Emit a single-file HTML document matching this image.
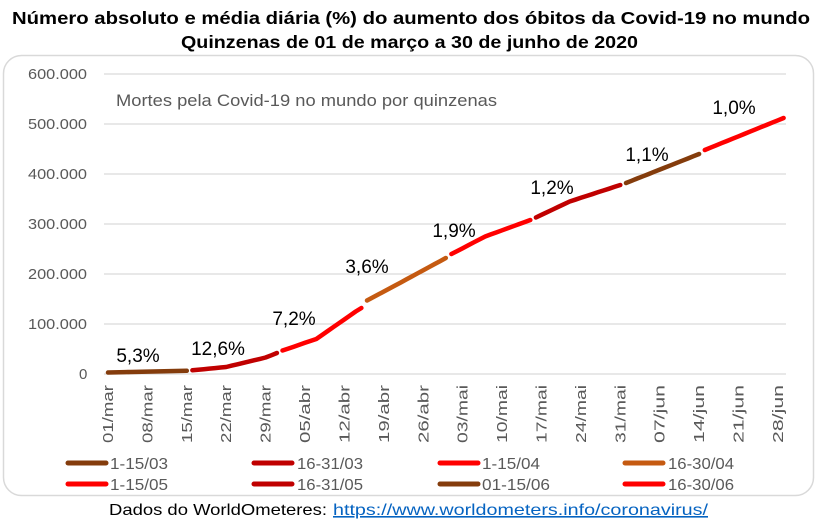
<!DOCTYPE html>
<html><head><meta charset="utf-8"><style>
body{margin:0;background:#fff;width:820px;height:526px;overflow:hidden;font-family:"Liberation Sans",sans-serif}
</style></head><body>
<svg width="820" height="526" xmlns="http://www.w3.org/2000/svg" font-family="Liberation Sans, sans-serif">
<text x="12" y="24" font-size="17.5" font-weight="bold" textLength="798" lengthAdjust="spacingAndGlyphs">Número absoluto e média diária (%) do aumento dos óbitos da Covid-19 no mundo</text>
<text x="181" y="48" font-size="17.5" font-weight="bold" textLength="457" lengthAdjust="spacingAndGlyphs">Quinzenas de 01 de março a 30 de junho de 2020</text>
<rect x="3.5" y="55.5" width="810" height="440" rx="18" fill="#fff" stroke="#d9d9d9" stroke-width="1.5"/>
<g stroke="#d9d9d9" stroke-width="1.3">
<line x1="104" x2="786" y1="74" y2="74"/><line x1="104" x2="786" y1="124" y2="124"/><line x1="104" x2="786" y1="174" y2="174"/><line x1="104" x2="786" y1="224" y2="224"/><line x1="104" x2="786" y1="274" y2="274"/><line x1="104" x2="786" y1="324" y2="324"/><line x1="104" x2="786" y1="374" y2="374"/>
</g>
<g font-size="15" fill="#595959">
<text x="28" y="79" textLength="59" lengthAdjust="spacingAndGlyphs">600.000</text><text x="28" y="129" textLength="59" lengthAdjust="spacingAndGlyphs">500.000</text><text x="28" y="179" textLength="59" lengthAdjust="spacingAndGlyphs">400.000</text><text x="28" y="229" textLength="59" lengthAdjust="spacingAndGlyphs">300.000</text><text x="28" y="279" textLength="59" lengthAdjust="spacingAndGlyphs">200.000</text><text x="28" y="329" textLength="59" lengthAdjust="spacingAndGlyphs">100.000</text><text x="79" y="379">0</text>
</g>
<text x="116" y="106" font-size="16.5" fill="#595959" textLength="381" lengthAdjust="spacingAndGlyphs">Mortes pela Covid-19 no mundo por quinzenas</text>
<g id="ticks" font-size="15" fill="#595959" text-anchor="end"></g>
<g id="lines" fill="none" stroke-width="4.5" stroke-linecap="round" stroke-linejoin="round"></g>
<g font-size="19" fill="#000" text-anchor="middle">
<text x="138" y="362">5,3%</text><text x="218" y="355">12,6%</text><text x="294" y="325">7,2%</text><text x="367" y="273">3,6%</text><text x="454" y="237">1,9%</text><text x="552" y="194">1,2%</text><text x="647" y="161">1,1%</text><text x="734" y="114">1,0%</text>
</g>
<g font-size="16" fill="#595959" lengthAdjust="spacingAndGlyphs">
<line x1="68" x2="106" y1="463" y2="463" stroke="#843C0C" stroke-width="5" stroke-linecap="round"/><text x="110" y="469" textLength="58" lengthAdjust="spacingAndGlyphs">1-15/03</text>
<line x1="254" x2="292" y1="463" y2="463" stroke="#C00000" stroke-width="5" stroke-linecap="round"/><text x="297" y="469" textLength="66" lengthAdjust="spacingAndGlyphs">16-31/03</text>
<line x1="440" x2="478" y1="463" y2="463" stroke="#FF0000" stroke-width="5" stroke-linecap="round"/><text x="482" y="469" textLength="58" lengthAdjust="spacingAndGlyphs">1-15/04</text>
<line x1="625" x2="663" y1="463" y2="463" stroke="#C55A11" stroke-width="5" stroke-linecap="round"/><text x="668" y="469" textLength="66" lengthAdjust="spacingAndGlyphs">16-30/04</text>
<line x1="68" x2="106" y1="484" y2="484" stroke="#FF0000" stroke-width="5" stroke-linecap="round"/><text x="110" y="490" textLength="58" lengthAdjust="spacingAndGlyphs">1-15/05</text>
<line x1="254" x2="292" y1="484" y2="484" stroke="#C00000" stroke-width="5" stroke-linecap="round"/><text x="297" y="490" textLength="66" lengthAdjust="spacingAndGlyphs">16-31/05</text>
<line x1="440" x2="478" y1="484" y2="484" stroke="#843C0C" stroke-width="5" stroke-linecap="round"/><text x="482" y="490" textLength="68" lengthAdjust="spacingAndGlyphs">01-15/06</text>
<line x1="625" x2="663" y1="484" y2="484" stroke="#FF0000" stroke-width="5" stroke-linecap="round"/><text x="668" y="490" textLength="66" lengthAdjust="spacingAndGlyphs">16-30/06</text>
</g>
<text x="109" y="515" font-size="16" fill="#000" textLength="218" lengthAdjust="spacingAndGlyphs">Dados do WorldOmeteres:</text>
<text x="333" y="515" font-size="16" fill="#0563C1" text-decoration="underline" textLength="375" lengthAdjust="spacingAndGlyphs">https://www.worldometers.info/coronavirus/</text>
</svg>
<script>
var ns="http://www.w3.org/2000/svg";
var X=function(d){return 108+5.63*d},Y=function(v){return 374-v/2000};
var labs=["01/mar","08/mar","15/mar","22/mar","29/mar","05/abr","12/abr","19/abr","26/abr","03/mai","10/mai","17/mai","24/mai","31/mai","07/jun","14/jun","21/jun","28/jun"];
var tg=document.getElementById("ticks");
labs.forEach(function(l,i){var x=X(i*7)+5;var t=document.createElementNS(ns,"text");t.setAttribute("transform","translate("+x+",385) rotate(-90)");t.setAttribute("textLength","58");t.setAttribute("lengthAdjust","spacingAndGlyphs");t.textContent=l;tg.appendChild(t);});
var key=[[0,3000],[14,6500],[15,7500],[21,14000],[28,33000],[30,42000],[31,47000],[37,70000],[44,125000],[45,132000],[46,147000],[52,183000],[60,232000],[61,240000],[67,275000],[75,308000],[76,313000],[82,345000],[91,378000],[92,382000],[105,440000],[106,448000],[120,512000]];
function val(d){for(var i=0;i<key.length-1;i++){if(d>=key[i][0]&&d<=key[i+1][0]){var a=key[i],b=key[i+1];return a[1]+(b[1]-a[1])*(d-a[0])/(b[0]-a[0]);}}return 512000;}
var segs=[[0,14,"#843C0C"],[15,30,"#C00000"],[31,45,"#FF0000"],[46,60,"#C55A11"],[61,75,"#FF0000"],[76,91,"#C00000"],[92,105,"#843C0C"],[106,120,"#FF0000"]];
var lg=document.getElementById("lines");
segs.forEach(function(s){var p=[];for(var d=s[0];d<=s[1];d++)p.push(X(d).toFixed(1)+","+Y(val(d)).toFixed(1));var pl=document.createElementNS(ns,"polyline");pl.setAttribute("points",p.join(" "));pl.setAttribute("stroke",s[2]);lg.appendChild(pl);});
</script>
</body></html>
